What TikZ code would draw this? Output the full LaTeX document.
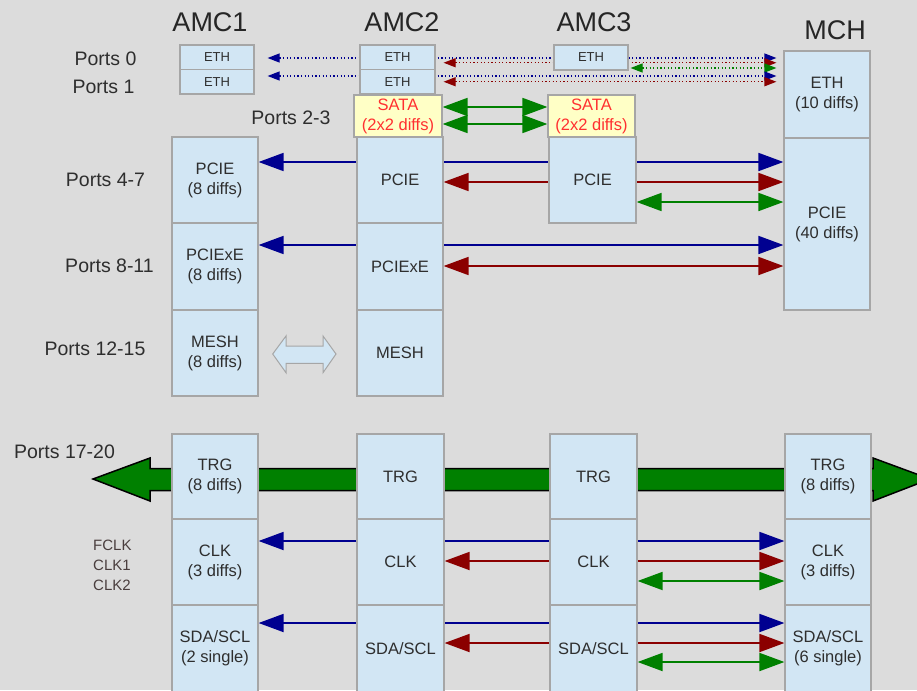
\documentclass[tikz,border=0pt]{standalone}
\usepackage{fontspec}
\setmainfont{Liberation Sans}
\usetikzlibrary{arrows.meta}
\definecolor{bgc}{HTML}{DCDCDC}
\definecolor{boxf}{HTML}{D2E6F4}
\definecolor{boxd}{HTML}{A6A6A6}
\definecolor{satf}{HTML}{FFFFC6}
\definecolor{satt}{HTML}{FF3030}
\definecolor{cblue}{HTML}{000090}
\definecolor{cred}{HTML}{8B0000}
\definecolor{cgreen}{HTML}{008000}
\definecolor{txt}{HTML}{2E2E2E}
\definecolor{clkt}{HTML}{4A3E3E}
\pgfdeclarelayer{back}
\pgfdeclarelayer{conn}
\pgfsetlayers{back,conn,main}
\begin{document}
\begin{tikzpicture}[x=1pt,y=-1pt,
 box/.style={draw=boxd, fill=boxf, line width=1.2pt, inner sep=0pt, align=center, text=txt, font=\fontsize{16.5}{20}\selectfont},
 ethbox/.style={box, font=\fontsize{13}{15}\selectfont},
 satabox/.style={box, fill=satf, text=satt},
 sz/.style 2 args={minimum width=#1pt, minimum height=#2pt},
 hdr/.style={font=\fontsize{27}{30}\selectfont, text=black!85, inner sep=0pt},
 port/.style={font=\fontsize{19.5}{22}\selectfont, text=txt, inner sep=0pt},
 bigarr/.style={line width=1.8pt, {Triangle[length=25pt,width=18pt]}-{Triangle[length=25pt,width=18pt]}},
 dotarr/.style={line width=1.2pt, dash pattern=on 1.2pt off 2.4pt, {Triangle[length=12pt,width=9pt]}-{Triangle[length=12pt,width=9pt]}, shorten >=7pt},
]
\useasboundingbox (0,0) rectangle (917,690);
\begin{pgfonlayer}{back}
\fill[bgc] (0,0) rectangle (917,690);
\end{pgfonlayer}

% headers
\node[hdr] (h1) at (210,22) {AMC1};
\node[hdr] (h2) at (402,22) {AMC2};
\node[hdr] (h3) at (594,22) {AMC3};
\node[hdr] (h4) at (835,30) {MCH};

% port labels
\node[port] (l0) at (105.5,59) {Ports 0};
\node[port] (l1) at (103.5,87) {Ports 1};
\node[port] (l23) at (291,118) {Ports 2-3};
\node[port] (l47) at (105.5,180) {Ports 4-7};
\node[port] (l811) at (109.5,266) {Ports 8-11};
\node[port] (l1215) at (95,349) {Ports 12-15};
\node[port] (l1720) at (64.5,452) {Ports 17-20};
\node[anchor=west, align=left, inner sep=0pt, text=clkt, font=\fontsize{15}{20}\selectfont] (clkl) at (93,565) {FCLK\\CLK1\\CLK2};

% ETH boxes
\node[ethbox, sz={74}{24.5}] (a1e0) at (217,57.25) {ETH};
\node[ethbox, sz={74}{24.5}] (a1e1) at (217,81.75) {ETH};
\node[ethbox, sz={75}{24.5}] (a2e0) at (397.5,57.25) {ETH};
\node[ethbox, sz={75}{24.5}] (a2e1) at (397.5,81.75) {ETH};
\node[ethbox, sz={74}{25}] (a3e) at (591,57.5) {ETH};
\node[box, sz={86}{87}] (mche) at (827,94.5) {ETH\\(10 diffs)};

% SATA
\node[satabox, sz={88}{42}] (a2s) at (398,116) {SATA\\(2x2 diffs)};
\node[satabox, sz={87}{42}] (a3s) at (591.5,116) {SATA\\(2x2 diffs)};

% upper boxes
\node[box, sz={86}{86}] (a1p) at (215,180) {PCIE\\(8 diffs)};
\node[box, sz={86}{87}] (a1x) at (215,266.5) {PCIExE\\(8 diffs)};
\node[box, sz={86}{86}] (a1m) at (215,353) {MESH\\(8 diffs)};
\node[box, sz={86}{86}] (a2p) at (400,180) {PCIE};
\node[box, sz={86}{87}] (a2x) at (400,266.5) {PCIExE};
\node[box, sz={86}{86}] (a2m) at (400,353) {MESH};
\node[box, sz={87}{86}] (a3p) at (592.5,180) {PCIE};
\node[box, sz={86}{172}] (mchp) at (827,224) {PCIE\\(40 diffs)};

% lower boxes
\node[box, sz={86}{85}] (a1t) at (215,476.5) {TRG\\(8 diffs)};
\node[box, sz={86}{86}] (a1c) at (215,562) {CLK\\(3 diffs)};
\node[box, sz={86}{87}] (a1d) at (215,648.5) {SDA/SCL\\(2 single)};
\node[box, sz={87}{85}] (a2t) at (400.5,476.5) {TRG};
\node[box, sz={87}{86}] (a2c) at (400.5,562) {CLK};
\node[box, sz={87}{87}] (a2d) at (400.5,648.5) {SDA/SCL};
\node[box, sz={87}{85}] (a3t) at (593.5,476.5) {TRG};
\node[box, sz={87}{86}] (a3c) at (593.5,562) {CLK};
\node[box, sz={87}{87}] (a3d) at (593.5,648.5) {SDA/SCL};
\node[box, sz={86}{85}] (mt) at (828,476.5) {TRG\\(8 diffs)};
\node[box, sz={86}{86}] (mc) at (828,562) {CLK\\(3 diffs)};
\node[box, sz={86}{87}] (md) at (828,648.5) {SDA/SCL\\(6 single)};

% MESH hollow double arrow
\draw[fill=boxf, draw=boxd, line width=1pt] (272.7,354) -- (286,336) -- (286,346) -- (323,346) -- (323,336) -- (336,354) -- (323,372.7) -- (323,363.3) -- (286,363.3) -- (286,372.7) -- cycle;

\begin{pgfonlayer}{conn}
% ETH dotted
\coordinate (e1) at ([xshift=13pt,yshift=-0.75pt]a1e0.east);
\coordinate (e2) at ([xshift=8pt,yshift=-5.5pt]a2e0.east);
\coordinate (e3) at ([xshift=2pt,yshift=-10.5pt]a3e.east);
\coordinate (e4) at ([xshift=13pt,yshift=5.75pt]a1e1.east);
\coordinate (e5) at ([xshift=8pt]a2e1.east);
\draw[dotarr, cblue] (e1) -- (e1 -| mche.west);
\draw[dotarr, cred] (e2) -- (e2 -| mche.west);
\draw[dotarr, cgreen] (e3) -- (e3 -| mche.west);
\draw[dotarr, cblue] (e4) -- (e4 -| mche.west);
\draw[dotarr, cred] (e5) -- (e5 -| mche.west);
% SATA
\coordinate (s1) at ([yshift=9pt]a2s.east);
\coordinate (s2) at ([yshift=-8pt]a2s.east);
\draw[bigarr, cgreen] (s1) -- (s1 -| a3s.west);
\draw[bigarr, cgreen] (s2) -- (s2 -| a3s.west);
% PCIE
\coordinate (p1) at ([yshift=18pt]a1p.east);
\coordinate (p2) at ([yshift=-2pt]a2p.east);
\coordinate (p3) at ([yshift=-22pt]a3p.east);
\coordinate (p4) at ([yshift=21.5pt]a1x.east);
\coordinate (p5) at ([yshift=0.5pt]a2x.east);
\draw[bigarr, cblue] (p1) -- (p1 -| mchp.west);
\draw[bigarr, cred] (p2) -- (p2 -| mchp.west);
\draw[bigarr, cgreen] (p3) -- (p3 -| mchp.west);
\draw[bigarr, cblue] (p4) -- (p4 -| mchp.west);
\draw[bigarr, cred] (p5) -- (p5 -| mchp.west);
% CLK
\coordinate (c1) at ([yshift=21pt]a1c.east);
\coordinate (c2) at ([yshift=1pt]a2c.east);
\coordinate (c3) at ([yshift=-19pt]a3c.east);
\draw[bigarr, cblue] (c1) -- (c1 -| mc.west);
\draw[bigarr, cred] (c2) -- (c2 -| mc.west);
\draw[bigarr, cgreen] (c3) -- (c3 -| mc.west);
% SDA
\coordinate (d1) at ([yshift=25.5pt]a1d.east);
\coordinate (d2) at ([yshift=5.5pt]a2d.east);
\coordinate (d3) at ([yshift=-13.5pt]a3d.east);
\draw[bigarr, cblue] (d1) -- (d1 -| md.west);
\draw[bigarr, cred] (d2) -- (d2 -| md.west);
\draw[bigarr, cgreen] (d3) -- (d3 -| md.west);
% big TRG arrow
\draw[fill=cgreen, draw=black, line width=1.5pt, line join=miter]
  (93,479) -- (150,458) -- (150,468.5) -- (873,468.5) -- (873,458) -- (930,479)
  -- (873,501) -- (873,490.5) -- (150,490.5) -- (150,501) -- cycle;
\end{pgfonlayer}
\end{tikzpicture}
\end{document}
